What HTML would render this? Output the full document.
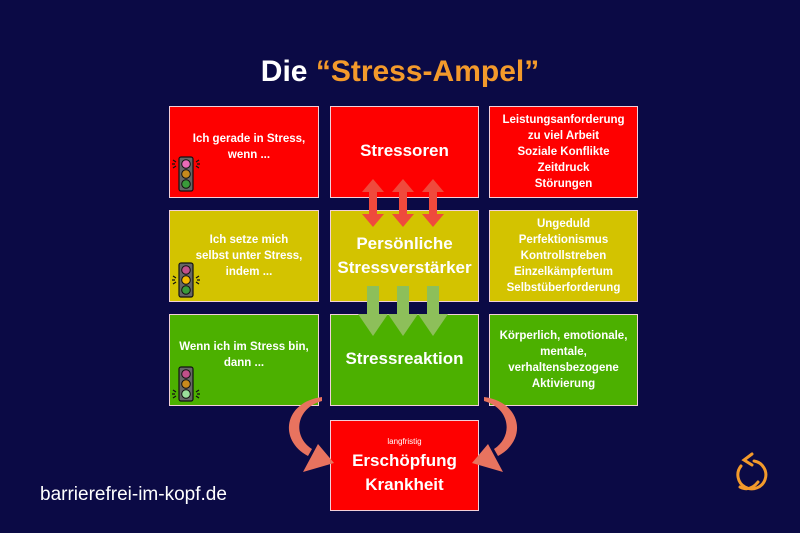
<!DOCTYPE html>
<html><head><meta charset="utf-8"><style>
body{margin:0;width:800px;height:533px;background:#0b0a45;position:relative;overflow:hidden;font-family:"Liberation Sans","DejaVu Sans",sans-serif;}
.b{position:absolute;box-sizing:border-box;border:1px solid #f2d0d8;display:flex;align-items:center;justify-content:center;text-align:center;color:#fff;font-weight:bold;}
.r{background:#fe0000}.y{background:#d3c300}.g{background:#4cb000}
.s{font-size:11.5px;line-height:16px}
.m{font-size:17px;line-height:24px}
.t{font-size:11.5px;line-height:16px}
</style></head><body>
<div style="position:absolute;left:0;width:800px;top:55px;text-align:center;font-size:30px;font-weight:bold;color:#fff;">Die <span style="color:#f39a2b">“Stress-Ampel”</span></div>

<div class="b r s" style="left:169px;top:106px;width:150px;height:92px;padding:0 0 10px 10px">Ich gerade in Stress,<br>wenn ...</div>
<div class="b r m" style="left:330px;top:106px;width:149px;height:92px;padding-bottom:2px">Stressoren</div>
<div class="b r t" style="left:489px;top:106px;width:149px;height:92px">Leistungsanforderung<br>zu viel Arbeit<br>Soziale Konflikte<br>Zeitdruck<br>Störungen</div>

<div class="b y s" style="left:169px;top:210px;width:150px;height:92px;padding:0 0 0 10px">Ich setze mich<br>selbst unter Stress,<br>indem ...</div>
<div class="b y m" style="left:330px;top:210px;width:149px;height:92px">Persönliche<br>Stressverstärker</div>
<div class="b y t" style="left:489px;top:210px;width:149px;height:92px">Ungeduld<br>Perfektionismus<br>Kontrollstreben<br>Einzelkämpfertum<br>Selbstüberforderung</div>

<div class="b g s" style="left:169px;top:314px;width:150px;height:92px;padding:0 0 10px 0">Wenn ich im Stress bin,<br>dann ...</div>
<div class="b g m" style="left:330px;top:314px;width:149px;height:92px;padding-bottom:2px">Stressreaktion</div>
<div class="b g t" style="left:489px;top:314px;width:149px;height:92px">Körperlich, emotionale,<br>mentale,<br>verhaltensbezogene<br>Aktivierung</div>

<div class="b r" style="left:330px;top:420px;width:149px;height:91px;flex-direction:column;">
<div style="font-size:8px;font-weight:normal;line-height:14px">langfristig</div>
<div style="font-size:17px;line-height:24px">Erschöpfung<br>Krankheit</div></div>

<div style="position:absolute;left:40px;top:484px;color:#fff;font-size:19px;">barrierefrei-im-kopf.de</div>

<svg width="800" height="533" style="position:absolute;left:0;top:0">
<g transform="translate(179,157)">
<rect x="0" y="0" width="14" height="34" rx="2" fill="#666" stroke="#111" stroke-width="1.2"/>
<circle cx="7" cy="7" r="4.3" fill="#e96ab8" stroke="#111"/><circle cx="7" cy="17" r="4.3" fill="#c88a1c" stroke="#111"/><circle cx="7" cy="27" r="4.3" fill="#3a9b3a" stroke="#111"/>
<path d="M-6 3l3 2M-7 7h3M-6 11l3-2M20 3l-3 2M21 7h-3M20 11l-3-2" stroke="#111" stroke-width="1.2"/>
</g>
<g transform="translate(179,263)">
<rect x="0" y="0" width="14" height="34" rx="2" fill="#666" stroke="#111" stroke-width="1.2"/>
<circle cx="7" cy="7" r="4.3" fill="#c0508a" stroke="#111"/><circle cx="7" cy="17" r="4.3" fill="#f4b800" stroke="#111"/><circle cx="7" cy="27" r="4.3" fill="#3a9b3a" stroke="#111"/>
<path d="M-6 13l3 2M-7 17h3M-6 21l3-2M20 13l-3 2M21 17h-3M20 21l-3-2" stroke="#111" stroke-width="1.2"/>
</g>
<g transform="translate(179,367)">
<rect x="0" y="0" width="14" height="34" rx="2" fill="#666" stroke="#111" stroke-width="1.2"/>
<circle cx="7" cy="7" r="4.3" fill="#c0508a" stroke="#111"/><circle cx="7" cy="17" r="4.3" fill="#c88a1c" stroke="#111"/><circle cx="7" cy="27" r="4.3" fill="#9be09b" stroke="#111"/>
<path d="M-6 23l3 2M-7 27h3M-6 31l3-2M20 23l-3 2M21 27h-3M20 31l-3-2" stroke="#111" stroke-width="1.2"/>
</g>
<g fill="#ef4a3c">
<path d="M373 179 l-11 13 h7 v22 h-7 l11 13 l11 -13 h-7 v-22 h7z"/>
<path d="M403 179 l-11 13 h7 v22 h-7 l11 13 l11 -13 h-7 v-22 h7z"/>
<path d="M433 179 l-11 13 h7 v22 h-7 l11 13 l11 -13 h-7 v-22 h7z"/>
</g>
<g fill="#8dbf5a">
<path d="M367 286 h12 v28 h9 l-15 22 l-15 -22 h9z"/>
<path d="M397 286 h12 v28 h9 l-15 22 l-15 -22 h9z"/>
<path d="M427 286 h12 v28 h9 l-15 22 l-15 -22 h9z"/>
</g>
<g fill="#e8735f">
<path d="M322 397 C284 402 278 440 308 456 L312 449 C292 436 296 408 322 401 Z"/>
<path d="M334 463 L318 444 L303 472 Z"/>
<path d="M484 397 C522 402 528 440 498 456 L494 449 C514 436 510 408 484 401 Z"/>
<path d="M472 463 L488 444 L503 472 Z"/>
</g>
<g fill="none" stroke="#f39a2b" stroke-width="3" stroke-linecap="round">
<path d="M741 466 A14 14 0 1 0 754 461"/>
<path d="M740 487 Q750 492 758 482"/>
<path d="M752 454 L744 460 L752 465"/>
</g>
</svg>
</body></html>
